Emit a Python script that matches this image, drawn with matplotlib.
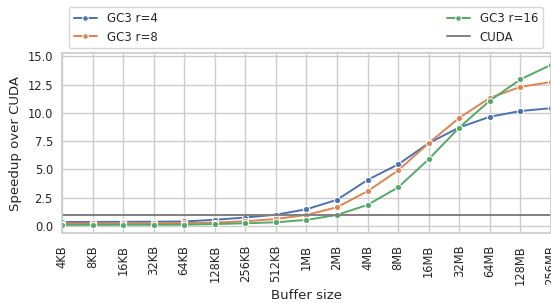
import numpy as np
import matplotlib
matplotlib.use('Agg')
import matplotlib.pyplot as plt
import seaborn as sns

sizes = ['4KB', '8KB', '16KB', '32KB', '64KB', '128KB', '256KB', '512KB',
         '1MB', '2MB', '4MB', '8MB', '16MB', '32MB', '64MB', '128MB', '256MB']
gc3_r4 = [0.35, 0.36, 0.37, 0.38, 0.40, 0.55, 0.75, 1.0,
          1.48, 2.32, 4.08, 5.45, 7.33, 8.72, 9.66, 10.17, 10.42]
gc3_r8 = [0.22, 0.23, 0.24, 0.25, 0.26, 0.30, 0.42, 0.62,
          0.98, 1.66, 3.08, 4.92, 7.33, 9.57, 11.33, 12.31, 12.73]
gc3_r16 = [0.10, 0.10, 0.11, 0.11, 0.12, 0.17, 0.24, 0.33,
           0.54, 0.98, 1.87, 3.42, 5.91, 8.71, 11.09, 12.97, 14.25]
cuda_speedup = 1.0

sns.set_theme(style='whitegrid')
palette = sns.color_palette('deep')

fig = plt.figure(figsize=(5.51, 3.03), dpi=100)
ax = fig.add_axes([0.1125, 0.231, 0.8875, 0.594])

x = np.arange(len(sizes))
for vals, label, col in [(gc3_r4, 'GC3 r=4', palette[0]),
                         (gc3_r8, 'GC3 r=8', palette[1]),
                         (gc3_r16, 'GC3 r=16', palette[2])]:
    ax.plot(x, vals, marker='o', markersize=4.5, markeredgecolor='white',
            markeredgewidth=0.75, linewidth=1.4, color=col, label=label)
ax.axhline(cuda_speedup, color='gray', linewidth=1.4, label='CUDA')

ax.set_xlim(0, len(sizes) - 1)
ax.set_ylim(-0.62, 15.3)
ax.set_xticks(x)
ax.set_xticklabels(sizes, rotation=90, fontsize=8.3)
ax.set_yticks([0, 2.5, 5, 7.5, 10, 12.5, 15])
ax.set_yticklabels(['0.0', '2.5', '5.0', '7.5', '10.0', '12.5', '15.0'], fontsize=8.3)
ax.tick_params(axis='x', length=0, pad=8.5)
ax.tick_params(axis='y', length=0, pad=6.5)
ax.set_xlabel('Buffer size', fontsize=9.5, labelpad=3)
ax.set_ylabel('Speedup over CUDA', fontsize=9.5)

fig.legend(loc='upper left', bbox_to_anchor=(0.125, 0.977, 0.86, 0.0),
           bbox_transform=fig.transFigure, ncol=2, mode='expand',
           fontsize=8.5, borderaxespad=0, markerscale=0.9)

fig.savefig('out.png', dpi=100)
